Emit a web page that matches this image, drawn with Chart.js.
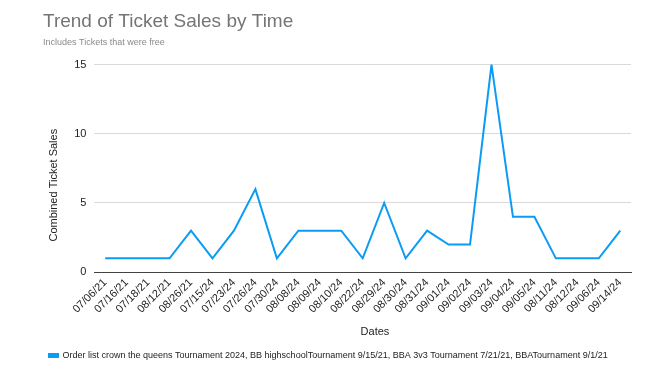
<!DOCTYPE html>
<html>
<head>
<meta charset="utf-8">
<script src="https://cdn.jsdelivr.net/npm/chart.js@4"></script>
<style>
  html, body { margin: 0; padding: 0; background: #fff; }
  #wrap { width: 665px; height: 386px; }
</style>
</head>
<body>
<div id="wrap"><canvas id="salesChart" width="665" height="386"></canvas></div>
<script>
// chart data
const dates = ["07/06/21", "07/16/21", "07/18/21", "08/12/21", "08/26/21", "07/15/24", "07/23/24",
  "07/26/24", "07/30/24", "08/08/24", "08/09/24", "08/10/24", "08/22/24", "08/29/24", "08/30/24",
  "08/31/24", "09/01/24", "09/02/24", "09/03/24", "09/04/24", "09/05/24", "08/11/24", "08/12/24",
  "09/06/24", "09/14/24"];
const ticketSales = [1, 1, 1, 1, 3, 1, 3, 6, 1, 3, 3, 3, 1, 5, 1, 3, 2, 2, 15, 4, 4, 1, 1, 1, 3];
const yTicks = [0, 5, 10, 15];
const seriesName = "Order list crown the queens Tournament 2024, BB highschoolTournament 9/15/21, BBA 3v3 Tournament 7/21/21, BBATournament 9/1/21";

const font = "'Liberation Sans', Arial, sans-serif";
const blue = "#0a9cf5";
const nb = "\u00a0"; // spacer used to nudge axis titles off-centre like the original

const ctx = document.getElementById("salesChart").getContext("2d");
new Chart(ctx, {
  type: "line",
  data: {
    labels: dates,
    datasets: [{
      label: seriesName,
      data: ticketSales,
      borderColor: blue,
      backgroundColor: blue,
      borderWidth: 2,
      pointRadius: 0,
      tension: 0,
      fill: false
    }]
  },
  options: {
    responsive: false,
    animation: false,
    layout: { padding: { left: 43, right: 34, top: 8, bottom: 16 } },
    plugins: {
      title: {
        display: true,
        text: "Trend of Ticket Sales by Time",
        align: "start",
        color: "#757575",
        font: { family: font, size: 19, weight: "normal" },
        padding: { top: 2, bottom: 4 }
      },
      subtitle: {
        display: true,
        text: "Includes Tickets that were free",
        align: "start",
        color: "#8a8a8a",
        font: { family: font, size: 9 },
        padding: { bottom: 17 }
      },
      legend: {
        position: "bottom",
        align: "start",
        labels: {
          color: "#222",
          font: { family: font, size: 9 },
          boxWidth: 9,
          boxHeight: 3,
          padding: 6
        }
      },
      tooltip: { enabled: false }
    },
    scales: {
      x: {
        offset: true,
        grid: { display: false, drawTicks: false },
        border: { color: "#444", width: 1 },
        ticks: {
          color: "#222",
          font: { family: font, size: 11 },
          maxRotation: 45,
          minRotation: 45,
          autoSkip: false,
          padding: 4
        },
        title: {
          display: true,
          text: nb.repeat(8) + "Dates",
          color: "#222",
          font: { family: font, size: 11 },
          padding: { top: 6, bottom: 6 }
        }
      },
      y: {
        min: 0,
        max: 15,
        afterBuildTicks: (axis) => { axis.ticks = yTicks.map(v => ({ value: v })); },
        grid: { color: "#d9d9d9", drawTicks: false },
        border: { display: false },
        ticks: {
          color: "#222",
          font: { family: font, size: 11 },
          padding: 8
        },
        title: {
          display: true,
          text: "Combined Ticket Sales" + nb.repeat(11),
          color: "#222",
          font: { family: font, size: 11 },
          padding: { bottom: 6 }
        }
      }
    }
  },
  plugins: [{
    id: "zeroLine",
    afterDatasetsDraw(chart) {
      const { ctx, chartArea, scales } = chart;
      const y = scales.y.getPixelForValue(0);
      ctx.save();
      ctx.strokeStyle = "#444";
      ctx.lineWidth = 1;
      ctx.beginPath();
      ctx.moveTo(chartArea.left, Math.round(y) + 0.5);
      ctx.lineTo(chartArea.right, Math.round(y) + 0.5);
      ctx.stroke();
      ctx.restore();
    }
  }]
});
</script>
</body>
</html>
